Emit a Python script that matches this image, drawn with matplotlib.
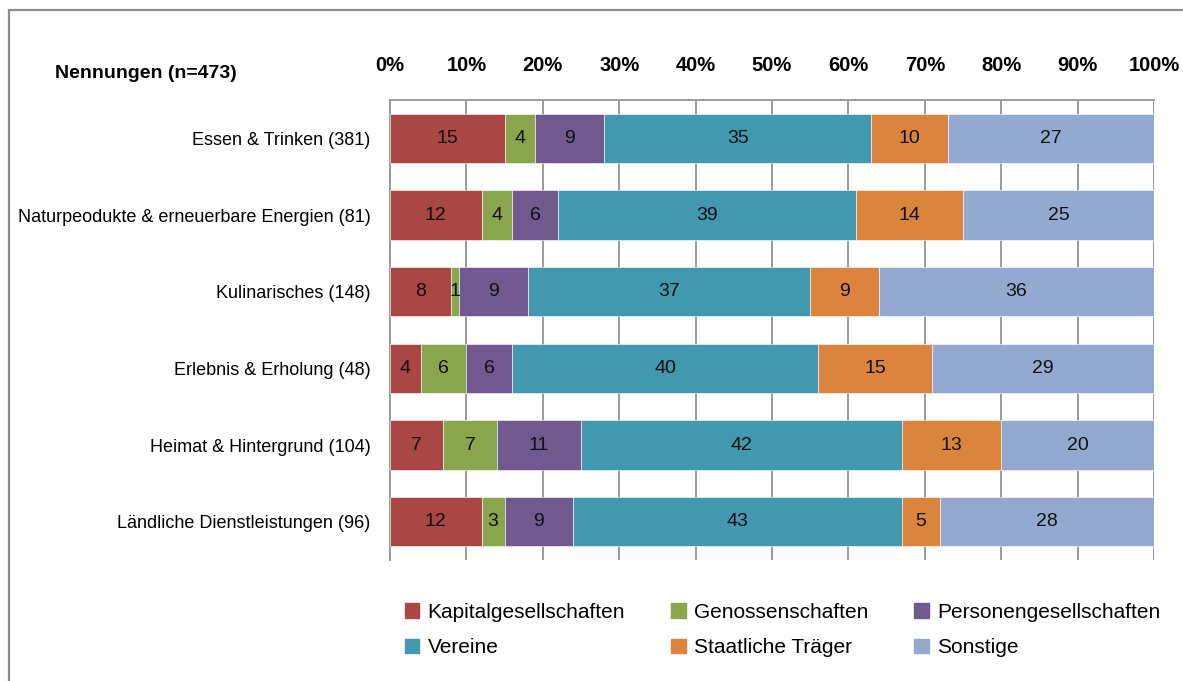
import matplotlib
matplotlib.use("Agg")
import matplotlib.pyplot as plt
import matplotlib.patches as mpatches
import numpy as np

plt.rcParams["font.family"] = ["Liberation Sans", "DejaVu Sans"]

# ── Data ──────────────────────────────────────────────────────────────────────
categories = [
    "Essen & Trinken (381)",
    "Naturpeodukte & erneuerbare Energien (81)",
    "Kulinarisches (148)",
    "Erlebnis & Erholung (48)",
    "Heimat & Hintergrund (104)",
    "Ländliche Dienstleistungen (96)",
]
series_names = ["Kapitalgesellschaften", "Genossenschaften", "Personengesellschaften",
                "Vereine", "Staatliche Träger", "Sonstige"]
kapital = [15, 12, 8, 4, 7, 12]
genossen = [4, 4, 1, 6, 7, 3]
personen = [9, 6, 9, 6, 11, 9]
vereine = [35, 39, 37, 40, 42, 43]
staatlich = [10, 14, 9, 15, 13, 5]
sonstige = [27, 25, 36, 29, 20, 28]
x_ticks = [0, 10, 20, 30, 40, 50, 60, 70, 80, 90, 100]

COLORS = ["#AA4643", "#89A54E", "#71588F", "#4198AF", "#DB843D", "#93A9CF"]
GRID = "#9a9a9a"

# ── Figure ────────────────────────────────────────────────────────────────────
W, H = 1183, 681
fig = plt.figure(figsize=(W / 100, H / 100), dpi=100)
fig.patch.set_facecolor("white")

# outer chart border
fig.add_artist(mpatches.Rectangle((9 / W, -0.1), 1.2, 1 - 10 / H + 0.1,
                                  transform=fig.transFigure, fill=False,
                                  edgecolor="#8c8c8c", linewidth=1.6))

ax = fig.add_axes([390 / W, 1 - 560 / H, (1154 - 390) / W, 460 / H])

data = [kapital, genossen, personen, vereine, staatlich, sonstige]
y = np.arange(len(categories))
left = np.zeros(len(categories))
for vals, name, col in zip(data, series_names, COLORS):
    vals = np.array(vals, dtype=float)
    ax.barh(y, vals, left=left, height=0.645, color=col, label=name,
            edgecolor="white", linewidth=0.4, zorder=3)
    for yi, v, l in zip(y, vals, left):
        ax.text(l + v / 2, yi, f"{int(v)}", ha="center", va="center",
                fontsize=14, color="#111111", zorder=4)
    left += vals

ax.set_xlim(0, 100)
ax.set_ylim(len(categories) - 0.5, -0.5)
ax.set_xticks(x_ticks)
ax.set_xticklabels([f"{t}%" for t in x_ticks], fontsize=14.5, fontweight="bold")
ax.xaxis.tick_top()
ax.tick_params(axis="x", length=0, pad=18)
ax.set_yticks(y)
ax.set_yticklabels(categories, fontsize=13)
ax.tick_params(axis="y", length=0, pad=14)
ax.grid(axis="x", color=GRID, linewidth=1.4, zorder=0)

for side in ["bottom", "right"]:
    ax.spines[side].set_visible(False)
for side in ["top", "left"]:
    ax.spines[side].set_color(GRID)
    ax.spines[side].set_linewidth(1.4)

fig.text(55 / W, 1 - 73 / H, "Nennungen (n=473)", fontsize=14, fontweight="bold",
         ha="left", va="center")

# legend, filled row by row like the original (matplotlib fills by column)
order = [0, 3, 1, 4, 2, 5]
handles = [mpatches.Patch(color=COLORS[i]) for i in order]
labels = [series_names[i] for i in order]
fig.legend(handles, labels, loc="center left", ncol=3,
           bbox_to_anchor=(386 / W, 1 - 630 / H), frameon=False, fontsize=15,
           handlelength=0.7, handleheight=0.7, handletextpad=0.4,
           columnspacing=2.2, labelspacing=0.8)

fig.savefig("out.png", dpi=100, facecolor="white")
